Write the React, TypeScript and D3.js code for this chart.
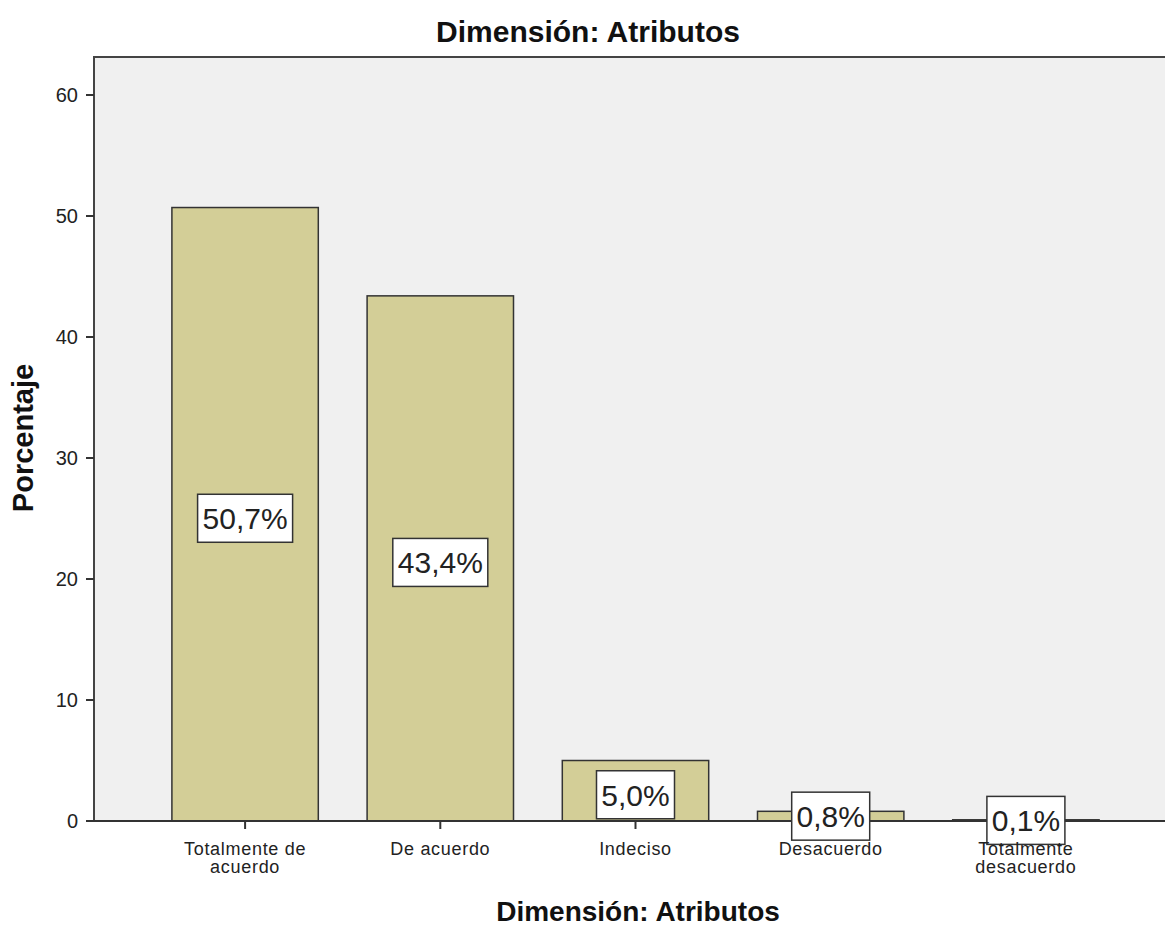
import { useEffect, useRef } from 'react';
import * as d3 from 'd3';

const categories = [
  'Totalmente de acuerdo',
  'De acuerdo',
  'Indeciso',
  'Desacuerdo',
  'Totalmente desacuerdo',
];
const categoryLines = [
  ['Totalmente de', 'acuerdo'],
  ['De acuerdo'],
  ['Indeciso'],
  ['Desacuerdo'],
  ['Totalmente', 'desacuerdo'],
];
const percentages = [50.7, 43.4, 5.0, 0.8, 0.1];
const valueLabels = ['50,7%', '43,4%', '5,0%', '0,8%', '0,1%'];
const yTicks = [0, 10, 20, 30, 40, 50, 60];

export default function App() {
  const svgRef = useRef<SVGSVGElement>(null);

  useEffect(() => {
    if (!svgRef.current) return;
    document.body.style.margin = '0';

    const width = 1165;
    const height = 926;
    const plot = { left: 94, top: 57, right: 1165, bottom: 821 };
    const font = '"Liberation Sans", Arial, sans-serif';

    const root = d3.select(svgRef.current);
    root.selectAll('*').remove();
    root.attr('width', width).attr('height', height);

    const x = d3
      .scaleBand<string>()
      .domain(categories)
      .range([147.5, 1123.5])
      .paddingInner(0.25)
      .paddingOuter(0.125);

    const y = d3
      .scaleLinear()
      .domain([0, 60])
      .range([plot.bottom, 95]);

    // plot background
    root
      .append('rect')
      .attr('x', plot.left)
      .attr('y', plot.top)
      .attr('width', plot.right - plot.left)
      .attr('height', plot.bottom - plot.top)
      .attr('fill', '#f0f0f0');

    root
      .append('path')
      .attr('d', `M${plot.left},${plot.bottom}V${plot.top}H${plot.right}`)
      .attr('fill', 'none')
      .attr('stroke', '#444')
      .attr('stroke-width', 2);

    // bars
    root
      .selectAll('.bar')
      .data(percentages)
      .enter()
      .append('rect')
      .attr('x', (_, i) => x(categories[i])!)
      .attr('y', (d) => y(d))
      .attr('width', x.bandwidth())
      .attr('height', (d) => y(0) - y(d))
      .attr('fill', '#d3ce97')
      .attr('stroke', '#333')
      .attr('stroke-width', 1.5);

    // x axis line
    root
      .append('line')
      .attr('x1', plot.left)
      .attr('x2', plot.right)
      .attr('y1', y(0))
      .attr('y2', y(0))
      .attr('stroke', '#333')
      .attr('stroke-width', 2);

    // y axis ticks
    const yAxis = root.append('g');
    yTicks.forEach((t) => {
      yAxis
        .append('line')
        .attr('x1', plot.left - 8)
        .attr('x2', plot.left)
        .attr('y1', y(t))
        .attr('y2', y(t))
        .attr('stroke', '#333')
        .attr('stroke-width', 2);
      yAxis
        .append('text')
        .attr('x', plot.left - 16)
        .attr('y', y(t))
        .attr('dy', '0.35em')
        .attr('text-anchor', 'end')
        .style('font-family', font)
        .style('font-size', '20px')
        .attr('fill', '#222')
        .text(t);
    });

    // x ticks
    categories.forEach((c) => {
      const cx = x(c)! + x.bandwidth() / 2;
      root
        .append('line')
        .attr('x1', cx)
        .attr('x2', cx)
        .attr('y1', y(0))
        .attr('y2', y(0) + 8)
        .attr('stroke', '#333')
        .attr('stroke-width', 2);
    });

    // value labels
    percentages.forEach((v, i) => {
      const cx = x(categories[i])! + x.bandwidth() / 2;
      const cy = y(v / 2) + (v > 2 ? 4 : 0);
      const g = root.append('g').attr('transform', `translate(${cx},${cy})`);
      const w = valueLabels[i].length === 5 ? 95 : 78;
      g.append('rect')
        .attr('x', -w / 2)
        .attr('y', -24)
        .attr('width', w)
        .attr('height', 48)
        .attr('fill', '#fff')
        .attr('stroke', '#333')
        .attr('stroke-width', 1.5);
      g.append('text')
        .attr('text-anchor', 'middle')
        .attr('dy', '0.36em')
        .style('font-family', font)
        .style('font-size', '30px')
        .attr('fill', '#222')
        .text(valueLabels[i]);
    });

    // x tick labels
    categories.forEach((c, i) => {
      const cx = x(c)! + x.bandwidth() / 2;
      const t = root
        .append('text')
        .attr('text-anchor', 'middle')
        .style('font-family', font)
        .style('font-size', '18px')
        .style('letter-spacing', '0.7px')
        .attr('fill', '#222');
      categoryLines[i].forEach((line, j) => {
        t.append('tspan')
          .attr('x', cx)
          .attr('y', 855 + j * 18)
          .text(line);
      });
    });

    // titles
    root
      .append('text')
      .attr('x', 588)
      .attr('y', 42)
      .attr('text-anchor', 'middle')
      .style('font-family', font)
      .style('font-size', '30px')
      .style('font-weight', 'bold')
      .attr('fill', '#111')
      .text('Dimensión: Atributos');

    root
      .append('text')
      .attr('x', 638)
      .attr('y', 921)
      .attr('text-anchor', 'middle')
      .style('font-family', font)
      .style('font-size', '28px')
      .style('font-weight', 'bold')
      .attr('fill', '#111')
      .text('Dimensión: Atributos');

    root
      .append('text')
      .attr('transform', `translate(33,438) rotate(-90)`)
      .attr('text-anchor', 'middle')
      .style('font-family', font)
      .style('font-size', '29px')
      .style('font-weight', 'bold')
      .attr('fill', '#111')
      .text('Porcentaje');
  }, []);

  return <svg ref={svgRef} style={{ display: 'block' }} />;
}
